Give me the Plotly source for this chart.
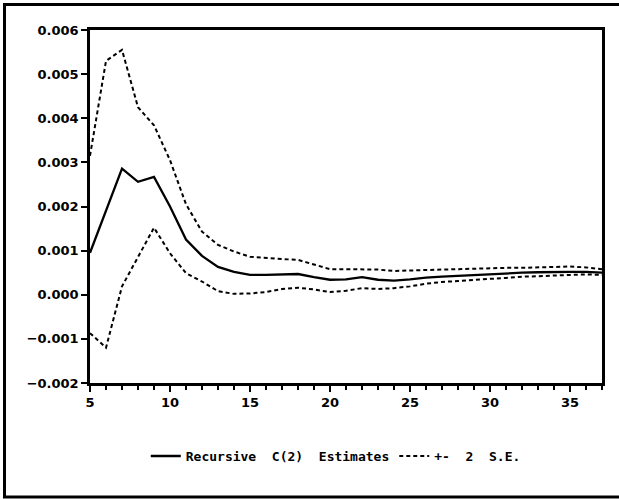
import plotly.graph_objects as go

# ---- data ----
obs = list(range(5, 38))
estimate = [0.00095, 0.00192, 0.00286, 0.00256, 0.00267, 0.00200, 0.00125, 0.00088,
            0.00063, 0.00052, 0.00045, 0.00045, 0.00046, 0.00047, 0.00040, 0.00034,
            0.00035, 0.00040, 0.00034, 0.00032, 0.00035, 0.00039, 0.00041, 0.00043,
            0.00045, 0.00047, 0.00048, 0.00050, 0.00051, 0.00052, 0.00052, 0.00052,
            0.00050]
upper = [0.00315, 0.00530, 0.00555, 0.00425, 0.00384, 0.00305, 0.00205, 0.00143,
         0.00113, 0.00098, 0.00086, 0.00083, 0.00081, 0.00079, 0.00069, 0.00058,
         0.00058, 0.00058, 0.00057, 0.00054, 0.00055, 0.00057, 0.00057, 0.00058,
         0.00059, 0.00060, 0.00061, 0.00061, 0.00062, 0.00063, 0.00064, 0.00062,
         0.00058]
lower = [-0.00087, -0.00120, 0.00019, 0.00087, 0.00152, 0.00094, 0.00049, 0.00030,
         0.00008, 0.00002, 0.00003, 0.00006, 0.00013, 0.00016, 0.00012, 0.00006,
         0.00009, 0.00015, 0.00013, 0.00015, 0.00019, 0.00025, 0.00029, 0.00031,
         0.00034, 0.00036, 0.00038, 0.00041, 0.00042, 0.00044, 0.00045, 0.00046,
         0.00045]
y_ticks = [-0.002, -0.001, 0.000, 0.001, 0.002, 0.003, 0.004, 0.005, 0.006]
x_ticks = [5, 10, 15, 20, 25, 30, 35]

W, H = 619, 499
ML, MR, MT, MB = 90, 17, 30, 116
PW, PH = W - ML - MR, H - MT - MB

NB = "\u00a0"
fig = go.Figure()
fig.add_trace(go.Scatter(x=obs, y=estimate, mode="lines",
                         line=dict(color="black", width=2.3),
                         name=f"<b>Recursive{NB}{NB}C(2){NB}{NB}Estimates</b>"))
fig.add_trace(go.Scatter(x=obs, y=upper, mode="lines",
                         line=dict(color="black", width=2, dash="4px,3px"),
                         name=f"<b>+-{NB}{NB}2{NB}{NB}S.E.</b>"))
fig.add_trace(go.Scatter(x=obs, y=lower, mode="lines",
                         line=dict(color="black", width=2, dash="4px,3px"),
                         showlegend=False))

tickfont = dict(family="DejaVu Sans", size=13, color="black", weight="bold")

fig.update_layout(
    width=W, height=H,
    margin=dict(l=ML, r=MR, t=MT, b=MB),
    paper_bgcolor="white", plot_bgcolor="white",
    xaxis=dict(range=[5, 37], tickvals=x_ticks, ticks="outside", ticklen=6,
               tickwidth=2, tickcolor="black", showline=True, linecolor="black",
               linewidth=2.5, mirror=True, showgrid=False, zeroline=False,
               tickfont=tickfont,
               minor=dict(dtick=1, tick0=5, ticks="outside", ticklen=4,
                          tickwidth=2, tickcolor="black", showgrid=False)),
    yaxis=dict(range=[-0.002, 0.006], tickvals=y_ticks, tickformat=".3f",
               ticks="outside", ticklen=6, tickwidth=2, tickcolor="black",
               showline=True, linecolor="black", linewidth=2.5, mirror=True,
               showgrid=False, zeroline=False, tickfont=tickfont),
    legend=dict(orientation="h", x=0.48, xanchor="center", y=-0.207,
                yanchor="middle", font=dict(family="DejaVu Sans Mono", size=13,
                                            color="black"),
                bgcolor="rgba(0,0,0,0)", itemwidth=30),
    showlegend=True,
)

# outer frame around the whole picture as one open path (left, top, bottom)
fx0, fx1 = (4.5 - ML) / PW, (630 - ML) / PW
fy0, fy1 = (MT + PH - 497) / PH, (MT + PH - 4.5) / PH
fig.add_shape(type="path", xref="paper", yref="paper",
              path=f"M{fx1},{fy1} L{fx0},{fy1} L{fx0},{fy0} L{fx1},{fy0}",
              line=dict(color="black", width=3), fillcolor="rgba(0,0,0,0)")

fig.write_html("out.html", config={"displayModeBar": False},
               post_script="document.body.style.margin='0px';")
